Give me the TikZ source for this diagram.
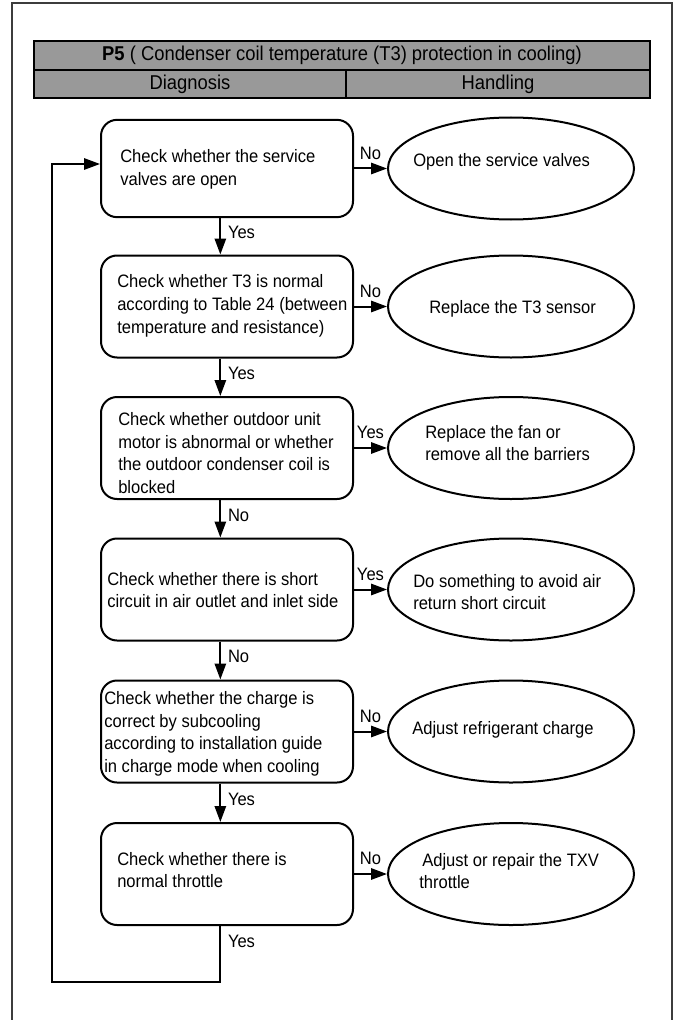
\documentclass[tikz,border=0pt]{standalone}
\usepackage{fontspec}
\setmainfont{Liberation Sans}[FakeStretch=0.92]
\usepackage{tikz}
\usetikzlibrary{arrows.meta,positioning,shapes.geometric}
\definecolor{cabgris}{RGB}{153,153,153}
\definecolor{marco}  {RGB}{60,60,60}

\begin{document}
\begin{tikzpicture}[x=0.75pt,y=-0.75pt,
  font=\fontsize{13.5}{17}\selectfont,
  chk/.style={draw,line width=1.5pt,rounded corners=12pt,minimum width=189pt,
              minimum height=76.5pt,inner sep=0pt},
  sol/.style={draw,line width=1.5pt,ellipse,minimum width=184.5pt,
              minimum height=76.5pt,inner sep=0pt},
  txt/.style={anchor=west,align=left,inner sep=0pt},
  flecha/.style={line width=1.5pt,-{Triangle[length=12pt,width=8.5pt]}},
  etq/.style={inner sep=1pt}]
\useasboundingbox (0,0) rectangle (683,1020);
\draw[marco,line width=0.8pt] (12,1030) -- (12,3) -- (672,3) -- (672,1030);
\filldraw[fill=cabgris,line width=1.5pt] (34,41) rectangle (650,98);
\draw[line width=1.5pt] (34,70) -- (650,70) (346,70) -- (346,98);
\node[font=\fontsize{15}{16}\selectfont] (titulo) at (342,55.5)
  {\textbf{P5} ( Condenser coil temperature (T3) protection in cooling)};
\node[font=\fontsize{15}{16}\selectfont] (diag) at (190,84) {Diagnosis};
\node[font=\fontsize{15}{16}\selectfont] (manejo) at (498,84) {Handling};
% Diagnosis
\node[chk,minimum height=73pt] (b1) at (227,168.5) {};
\node[chk] (b2) at (227,306.5) {};
\node[chk] (b3) at (227,448) {};
\node[chk] (b4) at (227,589.5) {};
\node[chk] (b5) at (227,731.5) {};
\node[chk] (b6) at (227,874) {};
\node[txt] (t1) at (120,169.5) {Check whether the service\\valves are open};
\node[txt] (t2) at (117,306) {Check whether T3 is normal\\according to Table 24 (between\\temperature and resistance)};
\node[txt] (t3) at (118,453) {Check whether outdoor unit\\motor is abnormal or whether\\the outdoor condenser coil is\\blocked};
\node[txt] (t4) at (107,590) {Check whether there is short\\circuit in air outlet and inlet side};
\node[txt] (t5) at (104,734) {Check whether the charge is\\correct by subcooling\\according to installation guide\\in charge mode when cooling};
\node[txt] (t6) at (117,870) {Check whether there is\\normal throttle};
% Handling
\node[sol] (e1) at (511,168.5) {};
\node[sol] (e2) at (511,306.5) {};
\node[sol] (e3) at (511,448) {};
\node[sol] (e4) at (511,589.5) {};
\node[sol] (e5) at (511,731.5) {};
\node[sol] (e6) at (511,874) {};
\node[txt] (s1) at (413,162) {Open the service valves};
\node[txt] (s2) at (429,309) {Replace the T3 sensor};
\node[txt] (s3) at (425,443) {Replace the fan or\\remove all the barriers};
\node[txt] (s4) at (413,592) {Do something to avoid air\\return short circuit};
\node[txt] (s5) at (412,730) {Adjust refrigerant charge};
\node[txt] (s6) at (419,871) {\,Adjust or repair the TXV\\throttle};
\draw[flecha] (b1.east) -- node[above=5pt,etq] {No} (e1.west);
\draw[flecha] (b2.east) -- node[above=5pt,etq] {No} (e2.west);
\draw[flecha] (b3.east) -- node[above=5pt,etq] {Yes} (e3.west);
\draw[flecha] (b4.east) -- node[above=5pt,etq] {Yes} (e4.west);
\draw[flecha] (b5.east) -- node[above=5pt,etq] {No} (e5.west);
\draw[flecha] (b6.east) -- node[above=5pt,etq] {No} (e6.west);
\draw[flecha] ([xshift=-5pt]b1.south) -- node[right=4pt,etq,pos=0.4] {Yes} ([xshift=-5pt]b2.north);
\draw[flecha] ([xshift=-5pt]b2.south) -- node[right=4pt,etq,pos=0.4] {Yes} ([xshift=-5pt]b3.north);
\draw[flecha] ([xshift=-5pt]b3.south) -- node[right=4pt,etq,pos=0.4] {No} ([xshift=-5pt]b4.north);
\draw[flecha] ([xshift=-5pt]b4.south) -- node[right=4pt,etq,pos=0.4] {No} ([xshift=-5pt]b5.north);
\draw[flecha] ([xshift=-5pt]b5.south) -- node[right=4pt,etq,pos=0.4] {Yes} ([xshift=-5pt]b6.north);
\coordinate (esq1) at (52,982);
\coordinate (esq2) at (52,164);
\draw[flecha] ([xshift=-5pt]b6.south) -- node[right=4pt,etq,pos=0.27] {Yes}
  ([xshift=-5pt]b6.south |- esq1) -- (esq1) -- (esq2) -- (esq2 -| b1.west);
\end{tikzpicture}
\end{document}
